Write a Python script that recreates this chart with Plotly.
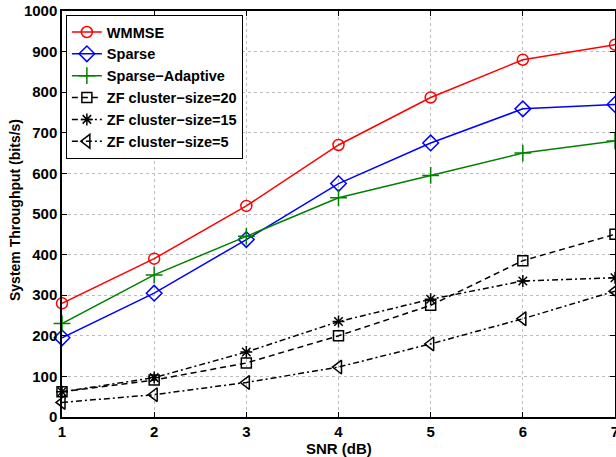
import plotly.graph_objects as go

snr = [1, 2, 3, 4, 5, 6, 7]
wmmse = [280, 390, 520, 670, 787, 880, 917]
sparse = [195, 305, 437, 575, 675, 759, 770]
sparse_adaptive = [230, 350, 445, 540, 595, 650, 680]
zf20 = [62, 91, 133, 200, 275, 385, 450]
zf15 = [62, 97, 160, 235, 290, 335, 343]
zf5 = [36, 55, 85, 123, 180, 242, 310]

x_ticks = [1, 2, 3, 4, 5, 6, 7]
y_ticks = [0, 100, 200, 300, 400, 500, 600, 700, 800, 900, 1000]

FONT = "Liberation Sans, Arial, sans-serif"
FS = 15

series = [
    ("WMMSE", wmmse, "red", "solid", "circle-open", 11),
    ("Sparse", sparse, "blue", "solid", "diamond-open", 12),
    ("Sparse\u2212Adaptive", sparse_adaptive, "green", "solid", "cross-thin-open", 12),
    ("ZF cluster\u2212size=20", zf20, "black", "6px,4px", "square-open", 10),
    ("ZF cluster\u2212size=15", zf15, "black", "6px,3px,2px,3px", "asterisk-open", 10),
    ("ZF cluster\u2212size=5", zf5, "black", "6px,3px,2px,3px", "triangle-left-open", 12),
]

fig = go.Figure()
for name, ys, color, dash, sym, sz in series:
    fig.add_trace(go.Scatter(
        x=snr, y=ys, name=name, mode="lines+markers",
        line=dict(color=color, width=1.5, dash=dash),
        marker=dict(symbol=sym, size=sz, color=color, line=dict(color=color, width=1.5)),
        cliponaxis=False,
    ))

axis_common = dict(
    showline=True, linecolor="black", linewidth=1.5, mirror="allticks",
    ticks="inside", ticklen=5, tickcolor="black", tickwidth=1,
    showgrid=True, gridcolor="#bcbcbc", griddash="dot", gridwidth=1,
    zeroline=False, automargin=False, ticklabeloverflow="allow",
    tickfont=dict(family=FONT, size=FS, color="black", weight="bold"),
)

fig.update_xaxes(range=[1, 7], tickvals=x_ticks, ticktext=[str(v) for v in x_ticks],
                 ticklabelstandoff=0, **axis_common)
fig.update_yaxes(range=[0, 1000], tickvals=y_ticks, ticktext=[str(v) for v in y_ticks],
                 ticklabelstandoff=0, **axis_common)

fig.add_annotation(text="SNR (dB)", xref="paper", yref="paper", x=0.5, y=0,
                   yshift=-31, xanchor="center", yanchor="middle", showarrow=False,
                   font=dict(family=FONT, size=FS, color="black", weight="bold"))
fig.add_annotation(text="System Throughput (bits/s)", xref="paper", yref="paper",
                   x=0, xshift=-47, y=0.5, yshift=4, xanchor="center", yanchor="middle",
                   textangle=-90, showarrow=False,
                   font=dict(family=FONT, size=14, color="black", weight="bold"))

fig.update_layout(
    width=616, height=457,
    margin=dict(l=62, r=1, t=11, b=40, autoexpand=False),
    plot_bgcolor="white", paper_bgcolor="white",
    showlegend=True,
    legend=dict(
        x=0.007, y=0.99, xanchor="left", yanchor="top",
        bgcolor="white", bordercolor="black", borderwidth=1,
        font=dict(family=FONT, size=14.5, color="black", weight="bold"),
        tracegroupgap=0, itemwidth=30,
    ),
)

fig.write_html("out.html", config={"displayModeBar": False},
               post_script="document.body.style.margin='0';document.body.style.overflow='hidden';")
